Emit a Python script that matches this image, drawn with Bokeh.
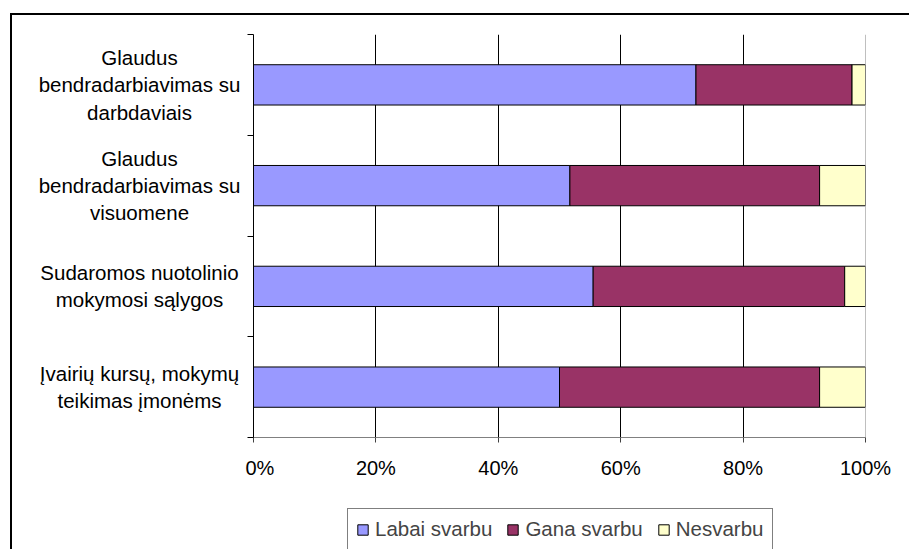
from bokeh.plotting import figure
from bokeh.layouts import row, column
from bokeh.models import (ColumnDataSource, Range1d, FixedTicker, PrintfTickFormatter,
                          CustomJSTickFormatter, Span, Legend, LegendItem)
from bokeh.core.properties import value
from bokeh.embed import file_html
from bokeh.resources import INLINE

# ---- data (top to bottom) ----
categories = [
    "Glaudus\nbendradarbiavimas su\ndarbdaviais",
    "Glaudus\nbendradarbiavimas su\nvisuomene",
    "Sudaromos nuotolinio\nmokymosi sąlygos",
    "Įvairių kursų, mokymų\nteikimas įmonėms",
]
labai_svarbu = [72.3, 51.7, 55.5, 50.0]
gana_svarbu = [25.5, 40.8, 41.1, 42.5]
nesvarbu = [2.2, 7.5, 3.4, 7.5]
series_names = ["Labai svarbu", "Gana svarbu", "Nesvarbu"]
x_ticks = [0, 20, 40, 60, 80, 100]

colors = ["#9999FF", "#993366", "#FFFFCC"]
FONT = "Liberation Sans"

n = len(categories)
ypos = [n - i - 0.5 for i in range(n)]
source = ColumnDataSource(dict(y=ypos, labai=labai_svarbu, gana=gana_svarbu, nes=nesvarbu,
                               label=categories))

yr = Range1d(0, n)
TOP, BOTTOM = 19, 42
MAIN_H = 466
LEFT_W = 233
MAIN_W = 664   # 8 + 612 + 44
LEG_H = 68

# ---- left label panel ----
lf = figure(width=LEFT_W, height=MAIN_H, output_backend="svg", toolbar_location=None,
            x_range=Range1d(0, LEFT_W), y_range=yr, x_axis_location=None, y_axis_location=None,
            min_border_left=0, min_border_right=0, min_border_top=TOP, min_border_bottom=BOTTOM)
lf.outline_line_color = None
lf.grid.visible = False
lf.text(x=127, y="y", text="label", source=source, text_align="center", text_baseline="middle",
        text_font=value(FONT), text_font_size="20.5px", text_line_height=1.18, text_color="black")

# ---- main chart ----
p = figure(width=MAIN_W, height=MAIN_H, output_backend="svg", toolbar_location=None,
           x_range=Range1d(0, 100), y_range=yr,
           min_border_left=8, min_border_right=44, min_border_top=TOP, min_border_bottom=BOTTOM)
p.outline_line_color = None

rs = p.hbar_stack(["labai", "gana", "nes"], y="y", height=0.4, color=colors,
                  line_color="black", line_width=1, source=source)

p.xaxis.ticker = FixedTicker(ticks=x_ticks)
p.xaxis.formatter = PrintfTickFormatter(format="%d%%")
p.xaxis.axis_line_color = "#808080"
p.xaxis.major_tick_line_color = "#404040"
p.xaxis.major_tick_out = 5
p.xaxis.major_tick_in = 0
p.xaxis.minor_tick_line_color = None
p.xaxis.major_label_text_font = FONT
p.xaxis.major_label_text_font_size = "20px"
p.xaxis.major_label_text_color = "black"
p.xaxis.major_label_standoff = 14

p.yaxis.ticker = FixedTicker(ticks=list(range(n + 1)))
p.yaxis.formatter = CustomJSTickFormatter(code="return ''")
p.yaxis.axis_line_color = "black"
p.yaxis.major_tick_line_color = "black"
p.yaxis.major_tick_out = 6
p.yaxis.major_tick_in = 0
p.yaxis.major_label_standoff = 0
p.yaxis.minor_tick_line_color = None

p.xgrid.ticker = FixedTicker(ticks=[t for t in x_ticks if 0 < t < 100])
p.xgrid.grid_line_color = "black"
p.ygrid.grid_line_color = None
p.add_layout(Span(location=100, dimension="height", line_color="#808080", line_width=1))

# ---- legend panel (legend proxies use the same data, kept out of view) ----
lg = figure(width=LEFT_W + MAIN_W, height=LEG_H, output_backend="svg", toolbar_location=None,
            x_range=Range1d(0, 1), y_range=Range1d(50, 51), x_axis_location=None,
            y_axis_location=None, min_border=0)
lg.outline_line_color = None
lg.grid.visible = False
proxies = lg.hbar_stack(["labai", "gana", "nes"], y="y", height=0.4, color=colors,
                        line_color="black", line_width=1, source=source)
legend = Legend(items=[LegendItem(label=nm, renderers=[r]) for nm, r in zip(series_names, proxies)],
                orientation="horizontal", location=(335, -1))
legend.label_text_font = FONT
legend.label_text_font_size = "20.5px"
legend.glyph_width = 13
legend.glyph_height = 13
legend.label_standoff = 6
legend.spacing = 14
legend.padding = 8
legend.margin = 0
legend.border_line_color = "black"
legend.border_line_width = 1
lg.add_layout(legend, "center")

layout = column(row(lf, p, spacing=0), lg, spacing=0)
layout.styles = {"border-left": "2px solid black", "border-top": "2px solid black",
                 "margin-left": "10px", "margin-top": "13px"}

open("out.html", "w").write(file_html(layout, INLINE))
